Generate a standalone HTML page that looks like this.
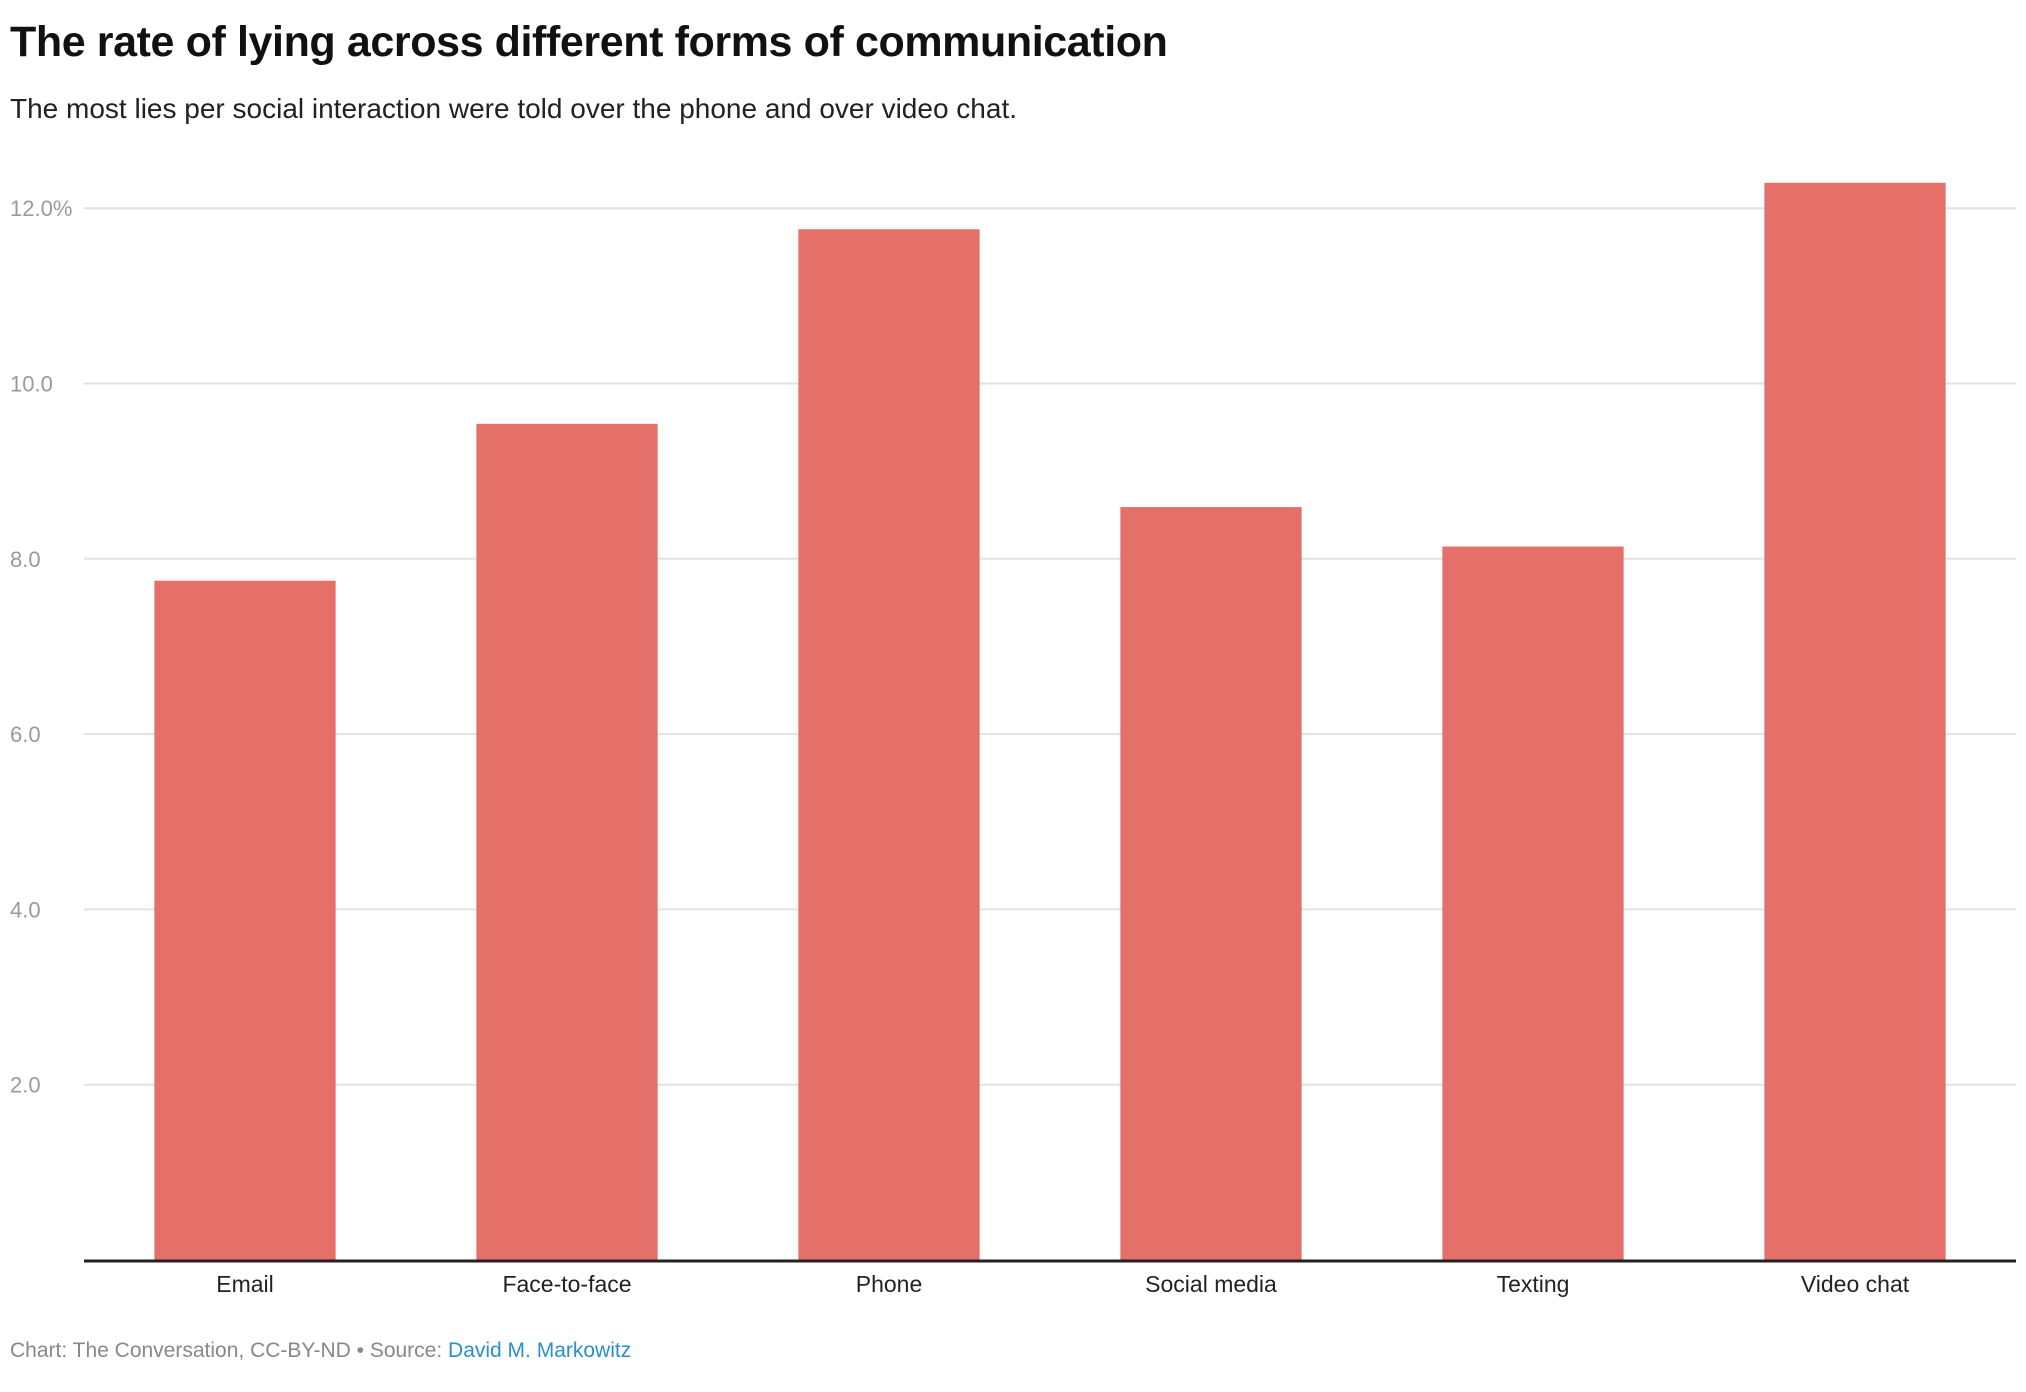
<!DOCTYPE html>
<html><head><meta charset="utf-8"><style>
html,body{margin:0;padding:0;background:#fff;width:2026px;height:1392px;overflow:hidden;font-family:"Liberation Sans",Arial,sans-serif;}
#title{position:absolute;left:10px;top:18px;font-size:43px;font-weight:bold;color:#111;letter-spacing:-0.4px;margin:0;}
#sub{position:absolute;left:10px;top:93px;font-size:28px;color:#222;margin:0;}
#foot{position:absolute;left:10px;top:1339px;font-size:21px;color:#888;}
#foot a{color:#2b8fcb;text-decoration:none;}
svg{position:absolute;left:0;top:0;}
</style></head><body>
<h1 id="title">The rate of lying across different forms of communication</h1>
<p id="sub">The most lies per social interaction were told over the phone and over video chat.</p>
<svg id="chart" width="2026" height="1392"></svg>
<div id="foot">Chart: The Conversation, CC-BY-ND • Source: <a>David M. Markowitz</a></div>
<script>
const categories = ["Email","Face-to-face","Phone","Social media","Texting","Video chat"];
const values = [7.75, 9.54, 11.76, 8.59, 8.14, 12.29];
const ticks = [2, 4, 6, 8, 10, 12];
const tickLabels = ["2.0","4.0","6.0","8.0","10.0","12.0%"];

const NS = "http://www.w3.org/2000/svg";
const svg = document.getElementById("chart");
const x0 = 84, x1 = 2016, yBase = 1260, yPerUnit = 87.65;
const band = (x1 - x0) / categories.length;
const y = v => yBase - v * yPerUnit;
const xc = i => x0 + band * (i + 0.5);
function mk(tag, attrs){const e=document.createElementNS(NS,tag);for(const k in attrs)e.setAttribute(k,attrs[k]);svg.appendChild(e);return e;}

ticks.forEach((t, i) => {
  const g = mk("line",{x1:x0,x2:x1,y1:y(t),y2:y(t),stroke:"#e2e2e2","stroke-width":2});
  
  
  const l = mk("text",{x:10,y:y(t)+8,"font-size":22,fill:"#9a9a9a","font-family":"Liberation Sans, sans-serif"});
  l.textContent = tickLabels[i];
  
  
});

const bw = band * 0.563;
categories.forEach((c, i) => {
  const r = mk("rect",{x:xc(i)-bw/2,y:y(values[i]),width:bw,height:yBase-y(values[i]),fill:"#e5706a"});
  
  
  const t = mk("text",{x:xc(i),y:1292,"font-size":23,fill:"#222","text-anchor":"middle","font-family":"Liberation Sans, sans-serif"});
  t.textContent = c;
  
  
});

const ax = mk("line",{x1:x0,x2:x1,y1:yBase+1,y2:yBase+1,stroke:"#222","stroke-width":3});


</script>
</body></html>
